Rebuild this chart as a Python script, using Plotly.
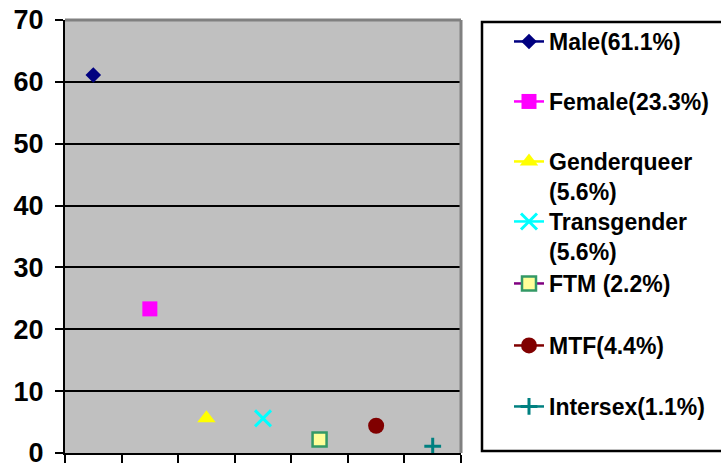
import plotly.graph_objects as go

# ---- data ----
categories = ["Male", "Female", "Genderqueer", "Transgender", "FTM", "MTF", "Intersex"]
values = [61.1, 23.3, 5.6, 5.6, 2.2, 4.4, 1.1]
legend_labels = ["Male(61.1%)", "Female(23.3%)", "Genderqueer<br>(5.6%)",
                 "Transgender<br>(5.6%)", "FTM (2.2%)", "MTF(4.4%)", "Intersex(1.1%)"]
y_ticks = [0, 10, 20, 30, 40, 50, 60, 70]

# ---- styles ----
symbols = ["diamond", "square", "triangle-up", "x-thin-open", "square", "circle", "cross-thin-open"]
sizes = [12, 15, 16, 16, 14, 16, 12]
fill_colors = ["#000080", "#FF00FF", "#FFFF00", "#00FFFF", "#FFFF99", "#800000", "#008080"]
line_colors = ["#000080", "#FF00FF", "#FFFF00", "#00FFFF", "#800080", "#800000", "#008080"]
marker_line_colors = ["#000080", "#FF00FF", "#FFFF00", "#00FFFF", "#339966", "#800000", "#008080"]
marker_line_widths = [0, 0, 0, 3, 2.5, 0, 3]

FONT = "Liberation Sans, Arial, sans-serif"

# pixel geometry helpers (plot area: x 65..461, y 20..453)
L, R, T, B = 65, 461, 20, 453
W, H = 721, 466
def px_x(px):
    return (px - L) / (R - L)
def px_y(py):
    return (B - py) / (B - T)

legend_tops = [20, 80, 140, 200, 262, 324, 385]

fig = go.Figure()
for i, (cat, val) in enumerate(zip(categories, values)):
    lname = "legend" if i == 0 else f"legend{i+1}"
    fig.add_trace(go.Scatter(
        x=[i + 1], y=[val], name=legend_labels[i],
        mode="lines+markers",
        line=dict(color=line_colors[i], width=2.5),
        marker=dict(symbol=symbols[i], size=sizes[i], color=fill_colors[i],
                    line=dict(color=marker_line_colors[i], width=marker_line_widths[i])),
        legend=lname,
        hoverinfo="skip",
    ))

layout_legends = {}
for i in range(len(categories)):
    lname = "legend" if i == 0 else f"legend{i+1}"
    layout_legends[lname] = dict(
        x=px_x(509), y=px_y(legend_tops[i]), xanchor="left", yanchor="top",
        bgcolor="rgba(0,0,0,0)", borderwidth=0, valign="top",
        font=dict(family=FONT, size=23, color="black", weight="bold"),
        itemsizing="trace",
    )

fig.update_layout(
    width=W, height=H,
    margin=dict(l=L, r=W - R, t=T, b=H - B, pad=0, autoexpand=False),
    paper_bgcolor="white",
    plot_bgcolor="#C0C0C0",
    showlegend=True,
    **layout_legends,
    xaxis=dict(range=[0.5, len(categories) + 0.5],
               tickvals=[i + 0.5 for i in range(len(categories) + 1)],
               showticklabels=False, ticks="outside", ticklen=8, tickwidth=2, tickcolor="black",
               showgrid=False, zeroline=False, showline=True, linecolor="black", linewidth=2),
    yaxis=dict(range=[0, 70], tickvals=y_ticks, ticks="outside", ticklen=8, tickwidth=2,
               tickcolor="black", showgrid=True, gridcolor="black", gridwidth=2,
               zeroline=False, showline=True, linecolor="black", linewidth=2,
               ticklabelstandoff=6, ticklabeloverflow="allow",
               tickfont=dict(family=FONT, size=27, color="black", weight="bold")),
    shapes=[
        dict(type="line", xref="paper", yref="paper", x0=0, x1=1, y0=1, y1=1,
             line=dict(color="#808080", width=3), layer="above"),
        dict(type="line", xref="paper", yref="paper", x0=1, x1=1, y0=0, y1=1,
             line=dict(color="#808080", width=3), layer="above"),
        dict(type="rect", xref="paper", yref="paper",
             x0=px_x(482), x1=px_x(740), y0=px_y(451), y1=px_y(22),
             line=dict(color="black", width=2.5), fillcolor="rgba(0,0,0,0)"),
    ],
)

fig.write_html("out.html")
